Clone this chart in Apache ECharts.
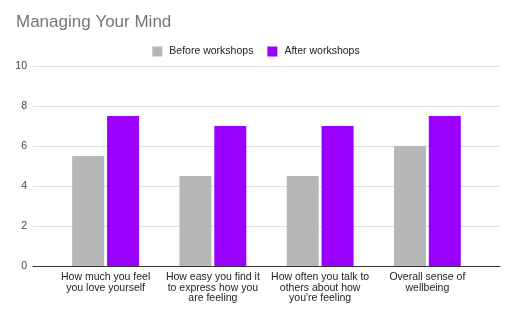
<!DOCTYPE html>
<html><head><meta charset="utf-8">
<script src="https://cdn.jsdelivr.net/npm/echarts@6/dist/echarts.min.js"></script>
<style>html,body{margin:0;padding:0;background:#fff}#c{width:512px;height:312px}</style>
</head><body><div id="c"></div>
<script>
const title = "Managing Your Mind";
const categories = [
  "How much you feel\nyou love yourself",
  "How easy you find it\nto express how you\nare feeling",
  "How often you talk to\nothers about how\nyou're feeling",
  "Overall sense of\nwellbeing"
];
const seriesNames = ["Before workshops", "After workshops"];
const beforeValues = [5.5, 4.5, 4.5, 6];
const afterValues = [7.5, 7, 7, 7.5];
const yTicks = [0, 2, 4, 6, 8, 10];

const font = "'Liberation Sans', Arial, sans-serif";
const chart = echarts.init(document.getElementById('c'), null, {renderer: 'canvas'});
chart.setOption({
  animation: false,
  backgroundColor: '#ffffff',
  title: {
    text: title, left: 11, top: 9,
    textStyle: {fontFamily: font, fontSize: 17, fontWeight: 'normal', color: '#757575'}
  },
  legend: {
    data: seriesNames, top: 41, left: 'center', itemWidth: 10, itemHeight: 10, itemGap: 14,
    icon: 'rect',
    textStyle: {fontFamily: font, fontSize: 10.5, color: '#222', padding: [0, 0, 0, 2]}
  },
  grid: [
    {left: 33, right: 12, top: 66, bottom: 46},
    {left: 52, right: 31, top: 66, bottom: 46}
  ],
  xAxis: [
    {gridIndex: 0, type: 'value', min: 0, max: 1, axisLabel: {show: false}, axisTick: {show: false},
     splitLine: {show: false}, axisLine: {show: true, lineStyle: {color: '#333', width: 1}}, z: 5},
    {gridIndex: 1, type: 'category', data: categories, axisLine: {show: false}, axisTick: {show: false},
     axisLabel: {interval: 0, margin: 6, fontFamily: font, fontSize: 10.5, lineHeight: 10.5, color: '#222'}}
  ],
  yAxis: [
    {gridIndex: 0, type: 'value', min: yTicks[0], max: yTicks[yTicks.length - 1], interval: 2,
     axisLine: {show: false}, axisTick: {show: false},
     axisLabel: {margin: 6, fontFamily: font, fontSize: 10.5, color: '#444'},
     splitLine: {lineStyle: {color: '#e0e0e0', width: 1}}},
    {gridIndex: 1, type: 'value', min: 0, max: 10, show: false, splitLine: {show: false}}
  ],
  series: [
    {name: seriesNames[0], type: 'bar', xAxisIndex: 1, yAxisIndex: 1, data: beforeValues,
     barWidth: 32, barGap: '9%', itemStyle: {color: '#b7b7b7'}},
    {name: seriesNames[1], type: 'bar', xAxisIndex: 1, yAxisIndex: 1, data: afterValues,
     barWidth: 32, barGap: '9%', itemStyle: {color: '#9900ff'}}
  ]
});
</script></body></html>
